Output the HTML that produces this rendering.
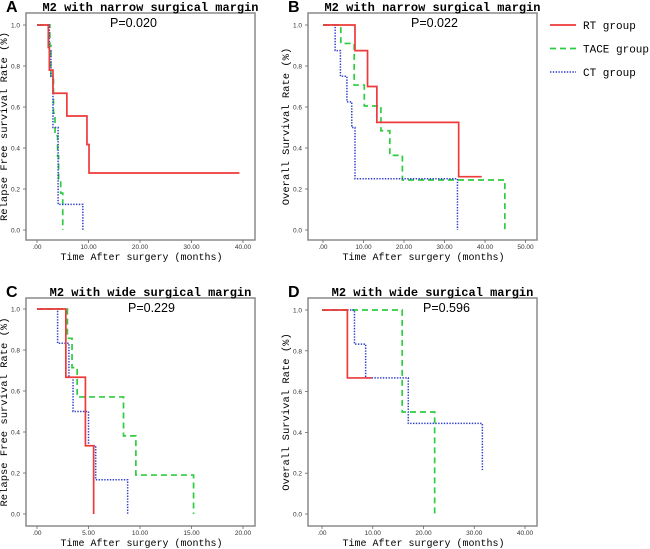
<!DOCTYPE html>
<html><head><meta charset="utf-8"><style>
body{margin:0;background:#fff;width:650px;height:549px;overflow:hidden}
svg{display:block}
.mono{font-family:"Liberation Mono",monospace}
.sans{font-family:"Liberation Sans",sans-serif}
</style></head><body>
<svg id="chart" width="650" height="549" viewBox="0 0 650 549"></svg>
<script>
// Panel A: relapse free survival, narrow margin
const aRTx=[0,2.2,2.4,3.1,5.8,9.7,10.1,39.3];
const aRTy=[1,0.89,0.78,0.667,0.556,0.417,0.278,0.278];
const aTACEx=[0,2.5,2.7,3.2,3.5,4.0,4.2,4.6,5.0];
const aTACEy=[1,0.9,0.75,0.57,0.46,0.36,0.25,0.18,0];
const aCTx=[0,2.4,2.7,3.1,4.1,8.9];
const aCTy=[1,0.875,0.75,0.5,0.125,0];
// Panel B: overall survival, narrow margin
const bRTx=[0,7.9,11,13.3,33.5,39.2];
const bRTy=[1,0.875,0.7,0.525,0.26,0.26];
const bTACEx=[0,4.4,7.7,10.2,14.3,16.5,19.6,44.9];
const bTACEy=[1,0.91,0.707,0.605,0.484,0.364,0.244,0];
const bCTx=[0,3,4.3,5.9,7.1,7.9,33.2];
const bCTy=[1,0.875,0.75,0.625,0.5,0.25,0];
// Panel C: relapse free survival, wide margin
const cRTx=[0,2.8,4.7,5.5];
const cRTy=[1,0.667,0.333,0];
const cTACEx=[0,2.95,3.4,3.9,8.4,9.6,15.2];
const cTACEy=[1,0.857,0.714,0.571,0.381,0.19,0];
const cCTx=[0,2.0,3.1,3.5,5.0,5.7,8.8];
const cCTy=[1,0.833,0.667,0.5,0.333,0.167,0];
// Panel D: overall survival, wide margin
const dRTx=[0,5.0,9.8];
const dRTy=[1,0.667,0.667];
const dTACEx=[0,15.8,22.2];
const dTACEy=[1,0.5,0];
const dCTx=[0,6.4,8.6,17.0,31.6,31.6];
const dCTy=[1,0.833,0.667,0.444,0.215,0.215];
const yTicks=[0,0.2,0.4,0.6,0.8,1.0];
const yTickLabels=["0.0","0.2","0.4","0.6","0.8","1.0"];
const xTicksA=[0,10,20,30,40];
const xTicksB=[0,10,20,30,40,50];
const xTicksC=[0,5,10,15,20];
const xTicksD=[0,10,20,30,40];
const pValues=["P=0.020","P=0.022","P=0.229","P=0.596"];
const legendLabels=["RT group","TACE group","CT group"];

const NS="http://www.w3.org/2000/svg";
const svg=document.getElementById('chart');
function mk(tag,attrs,parent){const e=document.createElementNS(NS,tag);for(const k in attrs)e.setAttribute(k,attrs[k]);(parent||svg).appendChild(e);return e;}
const styles={
 RT:{stroke:"#ee3a3a","stroke-width":1.7},
 TACE:{stroke:"#2ecc40","stroke-width":1.7,"stroke-dasharray":"6,4"},
 CT:{stroke:"#2f3fcc","stroke-width":1.5,"stroke-dasharray":"1.4,1.4"}
};
function panel(cfg){
 const g=mk('g',{});
 
 
 const xs=v=>cfg.x0+(v-0)*(cfg.x1-cfg.x0)/cfg.xmax;
 const ys=v=>cfg.yb+(cfg.yt-cfg.yb)*v;
 const fr=mk('rect',{x:cfg.L,y:cfg.T,width:cfg.R-cfg.L,height:cfg.B-cfg.T,fill:"none",stroke:"#8a8a8a","stroke-width":1.5},g);
 
 const lab=mk('text',{x:cfg.L-20,y:cfg.T-1,"font-size":16,"font-weight":"bold",class:"sans"},g);
 lab.textContent=cfg.id.toUpperCase();
 
 const ti=mk('text',{x:(cfg.L+cfg.R)/2+10,y:cfg.T-2,"font-size":12,"font-weight":"bold","text-anchor":"middle",class:"mono"},g);
 ti.textContent=cfg.title;
 
 yTicks.forEach((t,i)=>{
  mk('line',{x1:cfg.L,x2:cfg.L-3,y1:ys(t),y2:ys(t),stroke:"#666","stroke-width":0.8},g);
  const tx=mk('text',{x:cfg.L-6,y:ys(t)+2.5,"font-size":6.5,"text-anchor":"end",class:"sans",fill:"#333"},g);
  tx.textContent=yTickLabels[i];
  
 });
 cfg.xt.forEach(t=>{
  mk('line',{x1:xs(t),x2:xs(t),y1:cfg.B,y2:cfg.B+3,stroke:"#666","stroke-width":0.8},g);
  const tx=mk('text',{x:xs(t),y:cfg.B+9,"font-size":6.5,"text-anchor":"middle",class:"sans",fill:"#333"},g);
  tx.textContent=t===0?".00":t.toFixed(2);
  
 });
 const xl=mk('text',{x:(cfg.L+cfg.R)/2+1,y:cfg.B+20,"font-size":10,"text-anchor":"middle",class:"mono"},g);
 xl.textContent="Time After surgery (months)";
 
 const cy=(cfg.T+cfg.B)/2;
 const yl=mk('text',{x:cfg.L-19,y:cy,"font-size":10.5,"text-anchor":"middle",class:"mono",transform:`rotate(-90 ${cfg.L-19} ${cy})`},g);
 yl.textContent=cfg.ytitle;
 
 const pv=mk('text',{x:cfg.px,y:cfg.T+14,"font-size":12.5,class:"sans"},g);
 pv.textContent=cfg.p;
 
 cfg.series.forEach(s=>{
  let d=`M${xs(s.x[0])},${ys(s.y[0])}`;
  for(let i=1;i<s.x.length;i++){d+=` H${xs(s.x[i])} V${ys(s.y[i])}`;}
  const attrs=Object.assign({d:d,fill:"none"},styles[s.name]);
  const p=mk('path',attrs,g);
  
  
 });
}
panel({id:"a",L:26,R:255,T:13,B:240,x0:37,x1:243,xmax:40,yt:25,yb:230,xt:xTicksA,title:"M2 with narrow surgical margin",ytitle:"Relapse Free survival Rate (%)",p:pValues[0],px:110,
 series:[{name:"TACE",x:aTACEx,y:aTACEy},{name:"CT",x:aCTx,y:aCTy},{name:"RT",x:aRTx,y:aRTy}]});
panel({id:"b",L:308,R:537,T:13,B:240,x0:323,x1:525.5,xmax:50,yt:25,yb:230,xt:xTicksB,title:"M2 with narrow surgical margin",ytitle:"Overall Survival Rate (%)",p:pValues[1],px:411,
 series:[{name:"TACE",x:bTACEx,y:bTACEy},{name:"CT",x:bCTx,y:bCTy},{name:"RT",x:bRTx,y:bRTy}]});
panel({id:"c",L:26,R:255,T:298,B:526,x0:37,x1:243,xmax:20,yt:309,yb:514,xt:xTicksC,title:"M2 with wide surgical margin",ytitle:"Relapse Free survival Rate (%)",p:pValues[2],px:128,
 series:[{name:"TACE",x:cTACEx,y:cTACEy},{name:"CT",x:cCTx,y:cCTy},{name:"RT",x:cRTx,y:cRTy}]});
panel({id:"d",L:308,R:537,T:298,B:526,x0:322,x1:525,xmax:40,yt:310,yb:514,xt:xTicksD,title:"M2 with wide surgical margin",ytitle:"Overall Survival Rate (%)",p:pValues[3],px:423,
 series:[{name:"TACE",x:dTACEx,y:dTACEy},{name:"CT",x:dCTx,y:dCTy},{name:"RT",x:dRTx,y:dRTy}]});
// legend
const lg=mk('g',{});


["RT","TACE","CT"].forEach((n,i)=>{
 const y=25+i*23.5;
 const attrs=Object.assign({x1:550,x2:576,y1:y,y2:y},styles[n]);
 mk('line',attrs,lg);
 const t=mk('text',{x:583,y:y+4,"font-size":11,class:"mono"},lg);
 t.textContent=legendLabels[i];
 
 
});
</script>
</body></html>
